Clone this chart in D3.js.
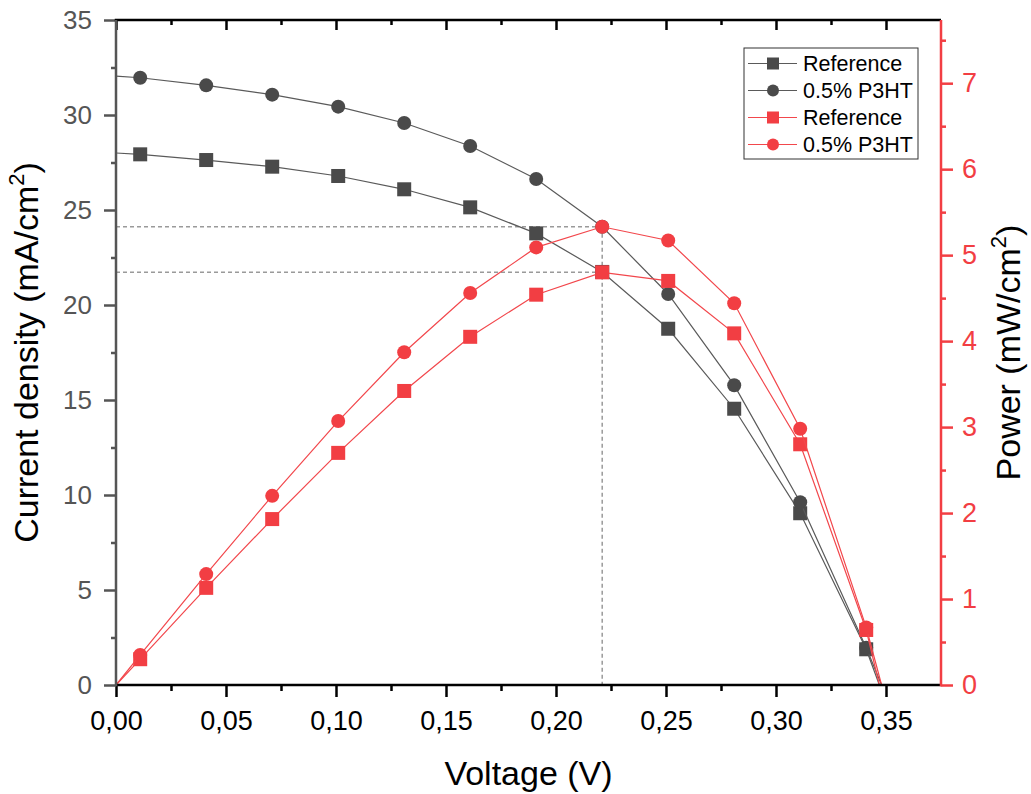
<!DOCTYPE html>
<html>
<head>
<meta charset="utf-8">
<script src="https://cdn.jsdelivr.net/npm/d3@7"></script>
<style>
  html, body { margin: 0; padding: 0; background: #fff; }
  svg { display: block; font-family: "Liberation Sans", Arial, sans-serif; }
</style>
</head>
<body>
<svg id="chart" width="1031" height="794"></svg>
<script>
// Measured voltages (V) of the marked points
const voltage = [0.011, 0.041, 0.071, 0.101, 0.131, 0.161, 0.191, 0.221, 0.251, 0.281, 0.311, 0.341];

// Current density (mA/cm^2)
const jReference = [27.93, 27.63, 27.28, 26.79, 26.09, 25.14, 23.77, 21.74, 18.75, 14.54, 9.04, 1.88];
const jP3HT      = [31.96, 31.56, 31.07, 30.44, 29.58, 28.37, 26.63, 24.12, 20.58, 15.78, 9.62, 1.96];

// Output power (mW/cm^2)
const pReference = [0.30, 1.13, 1.93, 2.70, 3.42, 4.05, 4.54, 4.80, 4.70, 4.09, 2.80, 0.64];
const pP3HT      = [0.35, 1.29, 2.20, 3.07, 3.87, 4.56, 5.09, 5.33, 5.17, 4.44, 2.98, 0.67];

// Curve end points without markers: short-circuit current and open-circuit voltage
const jscReference = 28.0, jscP3HT = 32.05;
const vocReference = 0.347, vocP3HT = 0.348;

// Tick values
const xTicks = [0, 0.05, 0.10, 0.15, 0.20, 0.25, 0.30, 0.35];
const xMinor = [0.025, 0.075, 0.125, 0.175, 0.225, 0.275, 0.325];
const yLeftTicks = [0, 5, 10, 15, 20, 25, 30, 35];
const yLeftMinor = [2.5, 7.5, 12.5, 17.5, 22.5, 27.5, 32.5];
const yRightTicks = [0, 1, 2, 3, 4, 5, 6, 7];
const yRightMinor = [0.5, 1.5, 2.5, 3.5, 4.5, 5.5, 6.5, 7.5];

const seriesNames = ["Reference", "0.5% P3HT", "Reference", "0.5% P3HT"];

const DARK = "#4a4a4a", DARK_LINE = "#5a5a5a";
const RED = "#f23e43", RED_LINE = "#f2474c";

const svg = d3.select("#chart");
const L = 116, R = 941, T = 20, B = 685;

const x = d3.scaleLinear().domain([0, 0.375]).range([L, R]);
const yL = d3.scaleLinear().domain([0, 35]).range([B, T]);
const yR = d3.scaleLinear().domain([0, 7.735]).range([B, T]);

const comma = v => d3.format(".2f")(v).replace(".", ",");

// Series definitions built from the arrays
const series = [
  { name: seriesNames[0], y: yL, shape: "square", fill: DARK, stroke: DARK_LINE,
    line: [[0, jscReference]].concat(voltage.map((v, i) => [v, jReference[i]]), [[vocReference, 0]]),
    pts: voltage.map((v, i) => [v, jReference[i]]) },
  { name: seriesNames[1], y: yL, shape: "circle", fill: DARK, stroke: DARK_LINE,
    line: [[0, jscP3HT]].concat(voltage.map((v, i) => [v, jP3HT[i]]), [[vocP3HT, 0]]),
    pts: voltage.map((v, i) => [v, jP3HT[i]]) },
  { name: seriesNames[2], y: yR, shape: "square", fill: RED, stroke: RED_LINE,
    line: [[0, 0]].concat(voltage.map((v, i) => [v, pReference[i]]), [[vocReference, 0]]),
    pts: voltage.map((v, i) => [v, pReference[i]]) },
  { name: seriesNames[3], y: yR, shape: "circle", fill: RED, stroke: RED_LINE,
    line: [[0, 0]].concat(voltage.map((v, i) => [v, pP3HT[i]]), [[vocP3HT, 0]]),
    pts: voltage.map((v, i) => [v, pP3HT[i]]) }
];

// Maximum power point guide lines
const guide = svg.append("g").attr("stroke", "#9a9a9a").attr("stroke-width", 1.5)
  .attr("stroke-dasharray", "4,3").attr("fill", "none");
const mpp = [pP3HT, pReference].map(arr => {
  const i = d3.maxIndex(arr);
  return [voltage[i], arr[i]];
});
mpp.forEach(([v, p]) => {
  guide.append("line").attr("x1", L).attr("x2", x(v)).attr("y1", yR(p)).attr("y2", yR(p));
});
guide.append("line").attr("x1", x(mpp[0][0])).attr("x2", x(mpp[0][0]))
  .attr("y1", yR(mpp[0][1])).attr("y2", B);

// Curves and markers
const MS = 14;
function marker(g, shape, cx, cy, size, fill) {
  if (shape === "square") {
    g.append("rect").attr("x", cx - size / 2).attr("y", cy - size / 2)
      .attr("width", size).attr("height", size).attr("fill", fill);
  } else {
    g.append("circle").attr("cx", cx).attr("cy", cy).attr("r", size / 2).attr("fill", fill);
  }
}
series.forEach(s => {
  const g = svg.append("g");
  const line = d3.line().x(d => x(d[0])).y(d => s.y(d[1]));
  g.append("path").datum(s.line).attr("d", line).attr("fill", "none")
    .attr("stroke", s.stroke).attr("stroke-width", 1.2);
  s.pts.forEach(d => marker(g, s.shape, x(d[0]), s.y(d[1]), MS, s.fill));
});

// Axes
function styleAxis(g, color, fontSize) {
  g.select(".domain").remove();
  g.selectAll("line").attr("stroke", color).attr("stroke-width", 2.5);
  g.selectAll("text").attr("fill", color).attr("font-size", fontSize)
    .attr("font-family", "'Liberation Sans', Arial, sans-serif");
}

// Bottom
const gx = svg.append("g").attr("transform", `translate(0,${B})`)
  .call(d3.axisBottom(x).tickValues(xTicks).tickSize(12).tickPadding(14).tickFormat(comma));
styleAxis(gx, "#000", 27);
const gxm = svg.append("g").attr("transform", `translate(0,${B})`)
  .call(d3.axisBottom(x).tickValues(xMinor).tickSize(6).tickFormat(""));
styleAxis(gxm, "#000", 0);

// Top (inward ticks, no labels)
const gt = svg.append("g").attr("transform", `translate(0,${T})`)
  .call(d3.axisBottom(x).tickValues(xTicks).tickSize(10).tickFormat(""));
styleAxis(gt, "#000", 0);
const gtm = svg.append("g").attr("transform", `translate(0,${T})`)
  .call(d3.axisBottom(x).tickValues(xMinor).tickSize(5).tickFormat(""));
styleAxis(gtm, "#000", 0);

// Left
const gl = svg.append("g").attr("transform", `translate(${L},0)`)
  .call(d3.axisLeft(yL).tickValues(yLeftTicks).tickSize(12).tickPadding(12));
styleAxis(gl, "#555", 26);
const glm = svg.append("g").attr("transform", `translate(${L},0)`)
  .call(d3.axisLeft(yL).tickValues(yLeftMinor).tickSize(5).tickFormat(""));
styleAxis(glm, "#555", 0);

// Right
const gr = svg.append("g").attr("transform", `translate(${R},0)`)
  .call(d3.axisRight(yR).tickValues(yRightTicks).tickSize(12).tickPadding(9));
styleAxis(gr, RED, 27);
const grm = svg.append("g").attr("transform", `translate(${R},0)`)
  .call(d3.axisRight(yR).tickValues(yRightMinor).tickSize(5).tickFormat(""));
styleAxis(grm, RED, 0);

// Axis lines
svg.append("line").attr("x1", L - 1.25).attr("x2", R).attr("y1", T).attr("y2", T)
  .attr("stroke", "#000").attr("stroke-width", 2.5);
svg.append("line").attr("x1", L).attr("x2", R).attr("y1", B).attr("y2", B)
  .attr("stroke", "#000").attr("stroke-width", 2.5);
svg.append("line").attr("x1", L).attr("x2", L).attr("y1", T).attr("y2", B + 1.25)
  .attr("stroke", "#555").attr("stroke-width", 2.5);
svg.append("line").attr("x1", R).attr("x2", R).attr("y1", T).attr("y2", B + 1.25)
  .attr("stroke", RED).attr("stroke-width", 2.5);

// Axis titles
svg.append("text").attr("x", (L + R) / 2).attr("y", 785).attr("text-anchor", "middle")
  .attr("font-size", 34).attr("fill", "#000").text("Voltage (V)");

const lt = svg.append("text").attr("transform", `translate(38,${(T + B) / 2}) rotate(-90)`)
  .attr("text-anchor", "middle").attr("font-size", 34).attr("fill", "#000");
lt.append("tspan").text("Current density (mA/cm");
lt.append("tspan").attr("font-size", 22).attr("dy", -14).text("2");
lt.append("tspan").attr("dy", 14).text(")");

const rt = svg.append("text").attr("transform", `translate(1020,${(T + B) / 2}) rotate(-90)`)
  .attr("text-anchor", "middle").attr("font-size", 34).attr("fill", "#000");
rt.append("tspan").text("Power (mW/cm");
rt.append("tspan").attr("font-size", 22).attr("dy", -14).text("2");
rt.append("tspan").attr("dy", 14).text(")");

// Legend
const lg = svg.append("g").attr("transform", "translate(744,48)");
lg.append("rect").attr("width", 174).attr("height", 111).attr("fill", "#fff")
  .attr("stroke", "#333").attr("stroke-width", 1);
series.forEach((s, i) => {
  const cy = 15.5 + i * 27;
  lg.append("line").attr("x1", 4).attr("x2", 53).attr("y1", cy).attr("y2", cy)
    .attr("stroke", s.stroke).attr("stroke-width", 1.2);
  marker(lg, s.shape, 29, cy, 12, s.fill);
  lg.append("text").attr("x", 59).attr("y", cy + 7.5).attr("font-size", 21.5)
    .attr("fill", "#000").text(s.name);
});
</script>
</body>
</html>
